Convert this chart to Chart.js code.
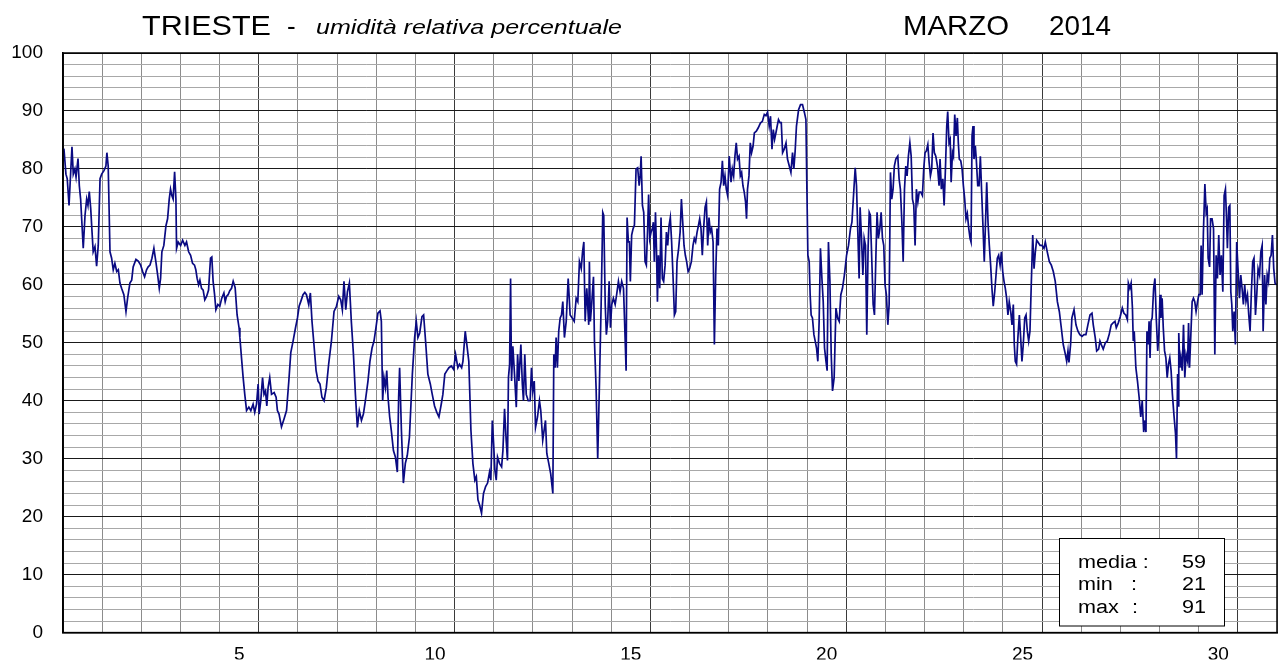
<!DOCTYPE html>
<html><head><meta charset="utf-8">
<script src="https://cdn.jsdelivr.net/npm/chart.js@4.4.1/dist/chart.umd.min.js"></script>
<style>html,body{margin:0;padding:0;background:#fff;}#wrap{width:1288px;height:664px;position:relative;}</style>
</head><body><div id="wrap"><canvas id="c" width="1288" height="664"></canvas></div>
<script>
// ---- data: [hour of month, relative humidity %] ----
const days1to5 = [[0,83.5],[0.6,83.4],[1.8,79.1],[2.6,78.3],[3.7,73.7],[4.3,77.1],[5.5,83.8],[6.3,79.1],[7.3,80],[8.0,78.6],[9.2,81.8],[10.0,77.1],[10.8,74.8],[12.4,66.3],[13.5,72],[14.5,74.8],[15.3,73.7],[16.1,76.1],[17.0,73.1],[17.8,69.1],[18.5,65.7],[19.6,66.6],[20.6,63.2],[21.6,66.8],[22.7,78.3],[23.7,79.1],[25.1,79.7],[26.3,80.5],[26.9,82.8],[27.7,80.5],[28.8,65.7],[29.8,64.6],[30.8,62.6],[31.8,63.7],[32.9,62.3],[33.9,62.6],[34.9,60.3],[35.9,59.4],[37.3,58.3],[38.6,55.4],[39.6,57.7],[41.0,60.3],[42.1,60.8],[43.0,63.1],[44.7,64.4],[46.1,64.1],[47.6,63.4],[48.8,62.3],[50.0,61.4],[51.2,62.6],[52.2,63.1],[53.3,63.4],[54.5,64.6],[55.7,66.3],[56.9,64],[58.0,61.7],[59.0,59.4],[59.8,61.1],[60.6,65.7],[61.8,66.8],[63.1,70.2],[64.1,71.4],[65.1,74.8],[65.9,76.5],[66.7,75.4],[67.5,74.8],[68.4,79.5],[69.2,74.8],[69.6,66.3],[70.6,67.4],[72.1,66.8],[73.3,67.7],[74.7,66.8],[75.7,67.4],[77.0,65.7],[78.2,65.1],[79.4,63.7],[80.6,63.4],[81.4,62.6],[82.2,61.1],[83.1,60],[83.9,60.8],[84.9,59.4],[85.9,59.1],[86.9,57.4],[88.0,58],[89.2,59.1],[90.4,64.6],[91.2,64.8],[92.0,60.6],[92.9,58.3],[93.7,55.7],[94.9,56.6],[96.1,56.3],[97.3,57.7],[98.6,58.6],[99.4,57.1],[100.2,58],[101.2,58.3],[102.2,59],[103.3,59.4],[104.3,60.6],[105.5,59.5],[106.7,54.8],[107.9,52.6],[108.4,50.9],[109.4,47.4],[110.4,44],[111.4,41.1],[112.5,38.3],[113.9,38.9],[115.1,38.3],[116.5,39.4],[117.5,38],[118.6,39.4],[119.6,42.9]];
const days6to10 = [[120.2,37.7],[121.2,40],[122.3,44],[123.2,41.1],[124.1,41.7],[124.9,39.1],[125.7,42.3],[126.7,44],[127.8,41.1],[129.4,41.4],[130.6,40.6],[131.4,38.3],[132.4,37.7],[133.9,35.5],[135.5,36.9],[137.0,38.3],[138.4,43.4],[139.6,48.3],[141.0,50.3],[142.5,52.6],[143.7,54.3],[144.7,56.3],[145.7,57.1],[147.1,58.3],[148.2,58.7],[149.2,58.3],[150.6,56.6],[151.6,58.6],[152.6,53.7],[153.8,49.7],[155.1,45.2],[156.3,43.4],[157.5,42.9],[158.7,40.6],[160.0,40],[161.4,42.3],[162.8,46.3],[164.5,50.3],[166.1,55.4],[167.6,56.3],[169.0,58],[170.2,57.4],[171.2,55.7],[172.2,60.6],[173.3,55.7],[174.3,58.8],[175.5,60.3],[176.7,53.7],[178.0,48],[179.2,41.1],[180.4,35.4],[181.6,38.3],[182.9,36.6],[184.1,37.7],[185.3,40],[186.9,43.4],[188.1,46.8],[189.4,49.1],[190.6,50.3],[191.8,52.6],[193.0,55.1],[194.3,55.5],[195.1,53.7],[195.9,40],[196.7,44],[197.6,42.3],[198.4,45.2],[199.2,40.6],[200.2,37.2],[201.2,34.9],[202.5,31.4],[203.7,30.3],[204.9,27.7],[205.7,40.6],[206.3,45.7],[207.4,34.9],[208.6,25.8],[209.8,29.2],[211.0,30.6],[212.3,33.7],[214.1,44.6],[215.5,50.9],[216.5,53.7],[217.5,50.9],[218.6,51.7],[220.0,54.5],[221.0,54.8],[222.2,50.3],[223.6,44.6],[225.1,42.9],[226.3,41.1],[227.7,39.1],[229.1,38],[230.4,37.2],[231.8,39.4],[232.8,41.1],[234.0,44.6],[235.3,45.2],[236.5,45.7],[238.0,46],[239.4,45.4]];
const days11to15 = [[240.6,48],[242.0,45.7],[243.0,46.3],[244.3,45.7],[245.1,46.8],[246.5,52],[247.5,49.7],[248.7,46.8],[250.0,34.9],[251.2,29.2],[252.4,26.3],[253.3,26.9],[254.3,22.9],[255.3,22],[256.5,20.6],[257.7,24],[259.0,25.2],[260.2,25.8],[261.4,27.7],[262.2,26.3],[263.1,36.6],[263.9,32.6],[264.7,28],[265.5,26.3],[266.3,30.3],[267.5,29.2],[268.8,28.6],[269.6,31.4],[270.6,38.6],[271.6,33.2],[272.4,29.7],[273.0,44],[273.7,46.3],[274.3,61.1],[274.9,43.4],[275.7,49.4],[276.7,44.6],[277.8,38.9],[278.6,48],[279.4,43.4],[280.6,49.7],[281.5,42.9],[282.2,40],[283.0,48],[283.9,41.1],[285.1,40],[286.3,40],[287.1,45.7],[287.9,41.7],[288.8,43.4],[289.6,35.4],[290.8,37.2],[292.0,40],[292.8,38.3],[294.0,33.2],[295.7,36.6],[296.5,30.9],[297.7,29.2],[298.9,27.4],[300.2,24],[300.8,48],[301.6,45.7],[302.2,50.9],[303.0,45.7],[303.8,52],[304.7,54.3],[305.5,54.8],[306.3,57.1],[307.3,50.9],[308.4,53.7],[309.6,61.1],[310.8,54.8],[312.0,54.3],[313.3,53.7],[314.5,57.7],[315.5,57.1],[316.5,64],[317.6,62.8],[318.4,65.7],[319.2,67.4],[320.0,53.7],[321.0,59.4],[322.2,53.1],[322.6,64],[323.2,53.7],[324.0,56.6],[325.1,61.4],[325.7,50.3],[326.7,42.3],[327.7,30],[328.8,43.4],[329.8,56.6],[330.8,72.5],[331.4,72],[332.3,56.6],[333.0,51.4],[333.8,53.7],[334.7,60.6],[335.5,52.6],[336.3,56.6],[337.3,57.7],[338.4,56.6],[339.3,58.3],[340.4,60.6],[341.4,58.8],[342.4,60.6],[343.5,59.4],[344.1,54.3],[345.1,45.2],[345.7,71.6],[346.5,67.4],[347.1,67.4],[347.7,60.6],[348.5,68.6],[349.4,69.7],[350.2,70.3],[351.2,80],[352.2,80.2],[353.1,77.1],[353.7,78.8],[354.3,82.2],[355.1,73.7],[355.9,72.5],[356.7,64],[357.5,63.4],[358.3,69.7],[358.9,75.6],[359.6,68]];
const days16to20 = [[360.4,69.1],[361.2,69.7],[361.8,70.8],[362.4,64],[363.1,72.5],[363.7,66.3],[364.3,57.1],[364.9,65.1],[365.7,59.4],[366.5,71.6],[367.3,61.1],[368.1,60.6],[369.0,63.4],[369.8,69.1],[370.6,66.8],[371.4,70.2],[372.2,71.6],[373.0,67.4],[373.9,61.1],[374.7,54.8],[375.5,55.4],[376.3,64],[377.3,66.3],[378.2,69.1],[379.0,74.8],[379.8,70.8],[380.6,66.8],[381.4,65.1],[382.2,64],[383.1,62.3],[384.0,62.8],[385.1,64],[386.1,66.8],[386.9,68],[387.7,67.4],[388.6,69.1],[389.4,70.2],[390.2,71.4],[391.0,69.7],[391.8,65.1],[392.6,69.7],[393.5,73.4],[394.3,74.3],[395.1,66.8],[395.9,71.6],[396.7,69.1],[397.5,69.7],[398.4,67.4],[399.2,49.7],[400.0,61.7],[400.8,69.7],[401.6,66.8],[402.4,76.5],[403.3,77.7],[404.1,81.4],[404.9,77.1],[405.7,78.8],[406.5,76.5],[407.3,75.4],[408.3,82.2],[409.4,77.7],[410.2,80],[411.0,78.8],[411.8,82.2],[412.6,84.5],[413.4,81.7],[414.3,82.2],[415.1,78.8],[415.9,79.4],[416.7,77.1],[417.5,76],[418.3,74.3],[418.9,71.4],[419.5,76.5],[420.4,78.8],[421.2,84.5],[422.0,82.8],[422.9,83.9],[423.7,86.2],[424.9,86.5],[426.1,87.1],[427.4,87.9],[428.6,88.2],[429.8,89.4],[430.8,89.2],[431.8,89.8],[432.8,87.4],[433.6,89.1],[434.5,83.4],[435.3,86.8],[436.1,85.1],[436.9,86.2],[437.7,87.4],[438.5,88.5],[439.4,88],[440.2,88],[441.0,82.8],[442.0,83.4],[443.1,84.5],[444.0,81.7],[445.1,80.5],[446.1,79.4],[447.1,82.8],[447.9,80],[448.7,83.1],[449.5,87.4],[450.8,90.2],[452.0,91.1],[453.2,91.1],[454.4,89.7],[455.3,88.5],[455.9,76.5],[456.5,65.1],[457.3,64],[457.9,58.3],[458.5,54.8],[459.3,54.3],[460.2,51.4],[461.0,50.3],[461.8,49.1],[462.6,46.8],[463.4,53.7],[464.2,66.3],[465.1,61.1],[465.9,57.1],[466.7,49.1],[467.6,46.8],[468.3,45.2],[469.1,67.4],[470.0,60.6],[470.8,48],[471.6,41.7],[472.6,44],[473.7,56],[474.7,54.3],[475.7,53.7],[476.7,58.3],[477.7,59.4],[478.9,61.7]];
const days21to25 = [[480.2,65.1],[481.4,66.8],[482.6,69.7],[483.5,70.8],[484.7,76.5],[485.5,80.2],[486.3,77.1],[487.1,69.1],[487.9,61.1],[488.5,73.4],[489.3,68.6],[490.2,61.7],[491.0,68],[491.8,66.8],[492.6,51.4],[493.4,66.3],[494.1,72.5],[494.8,72],[495.7,64],[496.5,56.6],[497.3,54.8],[498.2,65.1],[498.9,72.5],[499.7,68],[500.6,69.7],[501.4,72.5],[502.2,68],[503.0,66.8],[503.8,60],[504.6,58.3],[505.5,53.1],[506.3,56.6],[507.1,79.4],[507.9,74.8],[508.7,76.5],[509.5,80.5],[510.4,81.7],[511.6,82.2],[512.4,78.3],[513.2,76.5],[514.1,70.8],[514.9,64],[515.7,76.5],[516.5,80.5],[517.3,78.8],[518.1,82.2],[519.0,84.5],[519.8,82.2],[520.6,74.8],[521.4,73.7],[522.2,66.8],[523.0,76.5],[523.9,74.3],[524.7,76],[525.7,76],[526.7,75.4],[527.5,80],[528.3,82.8],[529.1,83.1],[530.0,84.2],[530.8,81.1],[531.6,78.8],[532.4,80],[533.2,86.2],[534.0,82.8],[534.9,82.2],[535.9,80.5],[536.9,77.1],[537.5,81.7],[538.3,76.5],[539.2,78.3],[540.0,73.7],[540.8,80],[541.6,87.4],[542.2,89.9],[543.0,84.5],[543.7,85.1],[544.3,77.7],[545.1,82.8],[545.7,82.2],[546.5,89.4],[547.3,85.7],[548.1,88.8],[548.7,84.5],[549.3,81.7],[550.2,81.4],[551.0,80],[551.8,77.1],[552.6,74.8],[553.4,71.4],[554.2,72.3],[555.1,69.7],[555.9,68],[556.5,67.4],[557.1,85.7],[557.7,87.4],[558.3,81.7],[559.1,84],[559.7,81.7],[560.6,77.1],[561.4,77.1],[562.2,82.2],[563.0,76],[563.8,70.2],[564.6,64],[565.5,72],[566.1,77.7],[566.9,70.8],[567.7,66.8],[568.5,63.4],[569.3,59.4],[570.1,56.3],[571.0,58.8],[571.8,61.7],[572.6,64.6],[573.4,65.1],[574.3,63.4],[575.1,65.7],[575.9,62.3],[576.7,60.6],[577.5,59.4],[578.3,57.7],[579.1,54.8],[579.9,57.1],[580.8,55.4],[581.6,53.1],[582.4,56.6],[583.0,49.7],[583.6,46.8],[584.4,46.3],[585.2,50.9],[586.1,54.8],[586.9,50.9],[587.7,46.8],[588.5,49.7],[589.4,54.3],[590.2,54.8],[591.0,52],[591.8,50.3],[592.6,52],[593.4,60],[594.3,68.6],[595.1,62.8],[595.9,65.7],[596.7,67.7],[597.5,67.4],[598.8,66.8]];
const days26to31 = [[600.0,66.8],[601.2,66.3],[602.0,67.4],[603.2,65.7],[604.5,64],[605.7,63.4],[606.9,62.3],[608.1,60.6],[609.4,57.1],[610.6,55.4],[611.8,52.6],[613.0,49.7],[614.3,48],[615.1,46.8],[615.9,48.6],[616.5,46.6],[617.5,49.7],[618.3,54.3],[619.6,55.7],[620.8,53.1],[622.0,52],[623.2,51.4],[624.5,51.1],[625.7,51.4],[626.9,51.4],[628.1,53.1],[629.4,54.8],[630.6,55.1],[631.4,53.1],[632.6,50.9],[633.5,48.6],[634.7,48.9],[635.5,50.3],[636.3,49.7],[637.5,48.9],[638.8,50],[640.0,50.3],[641.2,51.5],[642.4,53.1],[643.4,53.4],[644.7,53.7],[645.5,52.6],[646.7,53.4],[647.9,54.5],[649.2,56],[650.2,55.1],[651.3,54.8],[652.3,54],[652.9,60.3],[653.8,59.4],[654.6,60.3],[655.4,56],[655.9,50.3],[656.5,52],[657.5,45.7],[658.5,43.4],[659.5,40.6],[660.5,37.2],[661.4,40],[662.3,34.6],[663.1,36.6],[663.7,34.6],[664.3,52],[665.1,49.7],[665.6,53.7],[666.2,47.4],[666.8,53.7],[667.5,54.3],[668.4,59.4],[669.2,61.1],[670.0,54.3],[670.9,48.6],[671.6,51.4],[672.3,58.3],[672.9,54.3],[673.6,57.7],[674.3,52.6],[675.1,48.6],[675.9,47.4],[676.7,44],[677.5,46.3],[678.3,47.4],[679.1,45.2],[679.9,41.1],[680.8,37.7],[681.8,34.3],[682.4,30],[683.1,44.6],[683.4,39.1],[683.8,51.7],[684.5,45.7],[685.1,47.4],[685.9,45.2],[686.7,53.1],[687.5,44],[688.3,48],[689.2,46.8],[689.8,53.4],[690.4,45.7],[691.2,51.4],[692.0,57.1],[692.8,57.7],[693.6,57.1],[694.4,55.4],[695.3,57.1],[696.1,58.3],[696.9,58.3],[697.5,66.8],[698.1,58.3],[698.9,69.1],[699.8,77.4],[700.6,72.5],[701.2,73.1],[701.8,64.6],[702.7,63.1],[703.3,71.4],[704.2,71.4],[705.1,69.7],[705.9,48],[706.7,65.1],[707.5,61.1],[708.3,68.6],[709.1,61.7],[709.9,65.1],[710.8,58.8],[711.6,75.4],[712.4,76.5],[713.0,72],[713.6,66.3],[714.4,73.4],[715.1,73.7],[715.7,58.8],[716.3,56.6],[716.9,52],[717.7,55.4],[718.5,49.7],[719.3,67.4],[720.1,62.8],[721.0,57.7],[721.8,61.7],[722.6,59.4],[723.4,56.6],[724.2,60],[725.0,57.1],[725.9,58.3],[726.7,54.8],[727.5,52],[728.3,58.8],[729.1,64],[729.9,64.6],[730.8,54.8],[731.6,58.3],[732.4,62.8],[733.3,61.7],[734.1,65.7],[734.9,66.8],[735.5,52],[736.4,61.7],[737.2,56.6],[738.0,61.7],[738.8,60.6],[739.6,64.6],[740.4,65.1],[741.2,68.6],[742.0,62.8],[742.8,60.3],[743.6,60]];

const dayTickLabels = [5, 10, 15, 20, 25, 30];
const yTickLabels = [0, 10, 20, 30, 40, 50, 60, 70, 80, 90, 100];
const statNames = ['media', 'min', 'max'];
const statValues = [59, 21, 91];
const titleCity = 'TRIESTE';
const titleSub = 'umidità relativa percentuale';
const titleMonth = 'MARZO';
const titleYear = '2014';

const HOURS = 744;
const FONT = "'Liberation Sans', Arial, sans-serif";
const readings = [].concat(days1to5, days6to10, days11to15, days16to20, days21to25, days26to31);

function scaledText(ctx, text, x, y, font, opts) {
  ctx.save();
  ctx.font = font;
  ctx.textBaseline = 'alphabetic';
  ctx.textAlign = 'left';
  const w = ctx.measureText(text).width;
  let sx = opts.sx || 1;
  if (opts.width) sx = opts.width / w;
  let x0 = x;
  if (opts.align === 'right') x0 = x - w * sx;
  ctx.translate(x0, y);
  ctx.scale(sx, 1);
  ctx.fillStyle = '#000';
  ctx.fillText(text, 0, 0);
  ctx.restore();
}

const decor = {
  id: 'decor',
  afterDraw(chart) {
    const ctx = chart.ctx, a = chart.chartArea;
    ctx.save();
    ctx.strokeStyle = '#000';
    ctx.lineWidth = 1.5;
    ctx.strokeRect(a.left, a.top, a.right - a.left, a.bottom - a.top);
    // titles
    scaledText(ctx, titleCity, 142, 34.5, '28px ' + FONT, {width: 129});
    scaledText(ctx, '-', 287, 34.5, '26px ' + FONT, {sx: 1});
    scaledText(ctx, titleSub, 316, 33.5, 'italic 21px ' + FONT, {width: 306});
    scaledText(ctx, titleMonth, 903, 34.5, '28px ' + FONT, {width: 106});
    scaledText(ctx, titleYear, 1049, 34.5, '28px ' + FONT, {width: 62});
    // stats box
    ctx.fillStyle = '#fff';
    ctx.fillRect(1059.5, 538.5, 165, 87.5);
    ctx.lineWidth = 1;
    ctx.strokeStyle = '#000';
    ctx.strokeRect(1059.5, 538.5, 165, 87.5);
    const rows = [568, 590, 612.5];
    const f = '18px ' + FONT;
    scaledText(ctx, statNames[0] + ' :', 1078, rows[0], f, {sx: 1.2});
    scaledText(ctx, statNames[1], 1078, rows[1], f, {sx: 1.2});
    scaledText(ctx, ':', 1131, rows[1], f, {sx: 1.2});
    scaledText(ctx, statNames[2], 1078, rows[2], f, {sx: 1.2});
    scaledText(ctx, ':', 1132, rows[2], f, {sx: 1.2});
    for (let i = 0; i < 3; i++) scaledText(ctx, String(statValues[i]), 1206, rows[i], f, {sx: 1.2, align: 'right'});
    ctx.restore();
  }
};

new Chart(document.getElementById('c'), {
  type: 'line',
  data: {
    datasets: [{
      data: readings,
      borderColor: '#0a0a82',
      borderWidth: 1.7,
      pointRadius: 0,
      tension: 0,
      fill: false
    }]
  },
  options: {
    responsive: false,
    animation: false,
    devicePixelRatio: 1,
    layout: {padding: {top: 53, right: 9, left: 0, bottom: 0}},
    plugins: {legend: {display: false}, tooltip: {enabled: false}, title: {display: false}},
    scales: {
      x: {
        type: 'linear', min: 0, max: HOURS,
        afterBuildTicks: (ax) => { const t = []; for (let v = 0; v <= HOURS; v += 12) t.push({value: v}); ax.ticks = t; },
        afterFit: (ax) => { ax.height = 27; },
        ticks: {
          autoSkip: false, maxRotation: 0, padding: 11, color: '#000',
          font: {family: FONT, size: 19},
          callback: (v) => { if (v % 24 !== 12) return ''; const d = (v + 12) / 24; return dayTickLabels.includes(d) ? String(d) : ''; }
        },
        grid: {
          drawTicks: false, lineWidth: 1,
          color: (c) => { const v = c.tick.value; if (v % 24 !== 0) return 'rgba(0,0,0,0)'; return v % 120 === 0 ? '#3a3a3a' : '#8c8c8c'; }
        },
        border: {display: true, color: '#000', width: 1.5}
      },
      y: {
        min: 0, max: 100,
        afterBuildTicks: (ax) => { const t = []; for (let v = 0; v <= 100; v += 2) t.push({value: v}); ax.ticks = t; },
        afterFit: (ax) => { ax.width = 63; },
        ticks: {
          autoSkip: false, padding: 20, color: '#000',
          font: {family: FONT, size: 19},
          callback: (v) => yTickLabels.includes(v) ? String(v) : ''
        },
        grid: {
          drawTicks: false, lineWidth: 1,
          color: (c) => c.tick.value % 10 === 0 ? '#1a1a1a' : '#a8a8a8'
        },
        border: {display: true, color: '#000', width: 1.5}
      }
    }
  },
  plugins: [decor]
});
</script>
</body></html>
